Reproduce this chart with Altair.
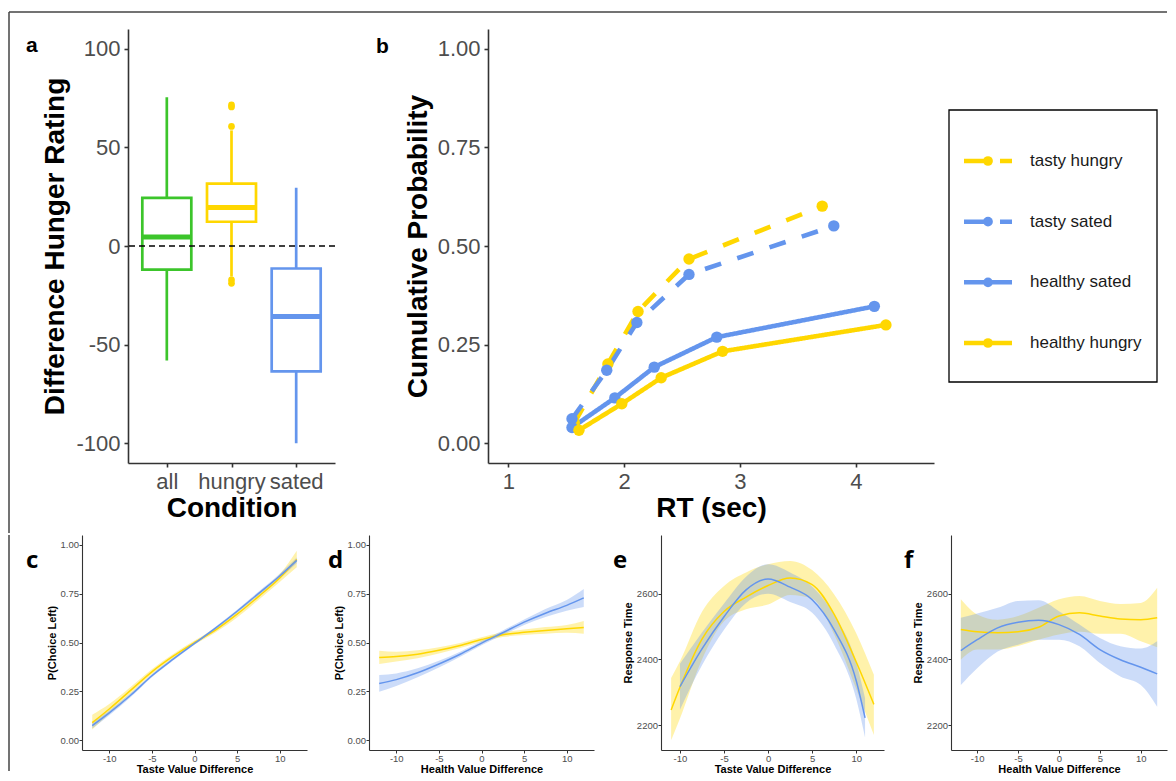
import altair as alt
import pandas as pd

FONT = "Liberation Sans"
GOLD = "#FFD700"
BLUE = "#6495ED"
GREEN = "#3CC52B"
GREY_TXT = "#4D4D4D"
AX = "#333333"

panel_letters = ["a", "b", "c", "d", "e", "f"]

# ---------------- panel a: boxplots ----------------
conditions = ["all", "hungry", "sated"]
box_q1 = [-12.0, 12.3, -63.6]
box_median = [4.5, 19.5, -35.7]
box_q3 = [24.4, 31.6, -11.4]
whisker_low = [-58.0, -15.5, -100.0]
whisker_high = [75.4, 58.6, 29.5]
outlier_cond = ["hungry", "hungry", "hungry", "hungry", "hungry"]
outlier_vals = [71.5, 70.5, 60.6, -17.2, -18.9]
zero_line = [0]

# ---------------- panel b: cumulative probability ----------------
series_names = ["tasty hungry", "tasty sated", "healthy sated", "healthy hungry"]
series_colors = [GOLD, BLUE, BLUE, GOLD]
rt_tasty_hungry = [1.57, 1.86, 2.12, 2.56, 3.71]
p_tasty_hungry = [0.052, 0.201, 0.334, 0.467, 0.601]
rt_tasty_sated = [1.55, 1.85, 2.11, 2.56, 3.81]
p_tasty_sated = [0.062, 0.185, 0.306, 0.428, 0.551]
rt_healthy_sated = [1.55, 1.92, 2.26, 2.80, 4.16]
p_healthy_sated = [0.040, 0.115, 0.193, 0.269, 0.347]
rt_healthy_hungry = [1.61, 1.98, 2.32, 2.85, 4.26]
p_healthy_hungry = [0.033, 0.100, 0.166, 0.233, 0.300]

# ---------------- panels c-f: smooth fits ----------------
groups = ["hungry", "sated"]
vd_x = [-12, -10, -7.5, -5, -2.5, 0, 2.5, 5, 7.5, 10, 12]

c_hungry = [0.09, 0.16, 0.255, 0.35, 0.43, 0.50, 0.565, 0.645, 0.735, 0.83, 0.925]
c_hungry_lo = [0.055, 0.135, 0.238, 0.337, 0.419, 0.49, 0.553, 0.628, 0.718, 0.81, 0.885]
c_hungry_hi = [0.13, 0.185, 0.272, 0.363, 0.441, 0.51, 0.577, 0.662, 0.752, 0.85, 0.97]
c_sated = [0.075, 0.14, 0.23, 0.33, 0.415, 0.495, 0.575, 0.66, 0.75, 0.84, 0.92]
c_sated_lo = [0.06, 0.128, 0.22, 0.322, 0.408, 0.489, 0.568, 0.652, 0.74, 0.828, 0.905]
c_sated_hi = [0.09, 0.152, 0.24, 0.338, 0.422, 0.501, 0.582, 0.668, 0.76, 0.852, 0.935]

d_hungry = [0.423, 0.428, 0.44, 0.46, 0.485, 0.515, 0.54, 0.552, 0.562, 0.57, 0.577]
d_hungry_lo = [0.39, 0.403, 0.42, 0.444, 0.472, 0.503, 0.528, 0.538, 0.545, 0.55, 0.545]
d_hungry_hi = [0.458, 0.453, 0.46, 0.476, 0.498, 0.527, 0.552, 0.566, 0.579, 0.59, 0.61]
d_sated = [0.29, 0.31, 0.345, 0.39, 0.44, 0.497, 0.55, 0.604, 0.65, 0.69, 0.728]
d_sated_lo = [0.248, 0.278, 0.322, 0.372, 0.427, 0.486, 0.538, 0.59, 0.63, 0.662, 0.682]
d_sated_hi = [0.334, 0.342, 0.368, 0.406, 0.453, 0.508, 0.562, 0.618, 0.672, 0.718, 0.774]

e_hungry_x = [-11, -10, -7.5, -5, -2.5, 0, 2.5, 5, 7.5, 10, 12]
e_hungry = [2246, 2315, 2462, 2546, 2590, 2625, 2648, 2628, 2537, 2392, 2263]
e_hungry_lo = [2154, 2220, 2400, 2516, 2553, 2567, 2596, 2585, 2476, 2310, 2170]
e_hungry_hi = [2343, 2394, 2545, 2624, 2665, 2690, 2700, 2672, 2598, 2480, 2353]
e_sated_x = [-10, -7.5, -5, -2.5, 0, 2.5, 5, 7.5, 10, 11]
e_sated = [2317, 2432, 2530, 2612, 2645, 2620, 2582, 2490, 2335, 2222]
e_sated_lo = [2247, 2382, 2490, 2572, 2600, 2575, 2542, 2445, 2280, 2162]
e_sated_hi = [2387, 2482, 2570, 2652, 2690, 2665, 2622, 2535, 2390, 2282]

f_hungry = [2491, 2484, 2481, 2484, 2498, 2532, 2542, 2532, 2523, 2521, 2527]
f_hungry_lo = [2399, 2430, 2430, 2441, 2460, 2476, 2484, 2478, 2478, 2455, 2437]
f_hungry_hi = [2583, 2537, 2521, 2532, 2557, 2583, 2593, 2578, 2569, 2572, 2618]
f_sated = [2427, 2460, 2496, 2513, 2519, 2506, 2476, 2430, 2399, 2376, 2356]
f_sated_lo = [2322, 2373, 2424, 2445, 2460, 2460, 2440, 2389, 2348, 2322, 2256]
f_sated_hi = [2527, 2540, 2557, 2578, 2580, 2547, 2506, 2465, 2440, 2433, 2455]

rt_ticks = [2200, 2400, 2600]
p_ticks = [0, 0.25, 0.5, 0.75, 1.0]
vd_ticks = [-10, -5, 0, 5, 10]
hunger_ticks = [-100, -50, 0, 50, 100]
rt_sec_ticks = [1, 2, 3, 4]

# ---------------- helpers ----------------
one = pd.DataFrame({"t": [0]})
PLAIN = "'' + datum.value"   # ASCII hyphen for negative numbers, as in the original


def top_axis(title, values=None, fmt=None, pad=4, plain=False):
    kw = dict(title=title, grid=False, domainColor=AX, domainWidth=1.6,
              tickColor=AX, tickWidth=1.6, tickSize=4, labelPadding=4, labelFontSize=22,
              labelColor=GREY_TXT, labelFont=FONT, titleFont=FONT, titleFontSize=28,
              titleFontWeight="bold", titleColor="black", titlePadding=pad,
              labelFlush=False, labelOverlap=False, labelAngle=0)
    if values is not None:
        kw["values"] = values
    if fmt:
        kw["format"] = fmt
    if plain:
        kw["labelExpr"] = PLAIN
    return alt.Axis(**kw)


def bot_axis(title, values=None, fmt=None, pad=0, plain=False):
    kw = dict(title=title, grid=False, domainColor=AX, domainWidth=1.1,
              tickColor=AX, tickWidth=1, tickSize=3, labelPadding=0.5, labelFontSize=9.5,
              labelColor=GREY_TXT, labelFont=FONT, titleFont=FONT, titleFontSize=11,
              titleFontWeight="bold", titleColor="black", titlePadding=pad,
              labelFlush=False, labelOverlap=False, labelAngle=0)
    if values is not None:
        kw["values"] = values
    if fmt:
        kw["format"] = fmt
    if plain:
        kw["labelExpr"] = PLAIN
    return alt.Axis(**kw)


def letter(txt, x, y, size, font):
    return alt.Chart(one).mark_text(align="left", baseline="alphabetic", fontSize=size,
                                    fontWeight="bold", font=font, color="black").encode(
        x=alt.value(x), y=alt.value(y), text=alt.value(txt))


def spacer(w, h):
    return alt.Chart(one).mark_point(opacity=0, size=0).encode(
        x=alt.value(0), y=alt.value(0)).properties(width=w, height=h)


TOP_H = 434
BOT_H = 215
FRAME = "#444444"

# ---------------- panel a ----------------
box_df = pd.DataFrame({"cond": conditions, "q1": box_q1, "med": box_median, "q3": box_q3,
                       "lo": whisker_low, "hi": whisker_high})
out_df = pd.DataFrame({"cond": outlier_cond, "v": outlier_vals})
zero_df = pd.DataFrame({"v": zero_line})
cond_scale = alt.Scale(domain=conditions, range=[GREEN, GOLD, BLUE])
xa = alt.X("cond:N", sort=conditions,
           scale=alt.Scale(type="point", domain=conditions, padding=0.6),
           axis=top_axis("Condition", pad=2))
ya_scale = alt.Scale(domain=[-110, 110], nice=False, zero=False)
ya_axis = top_axis("Difference Hunger Rating", hunger_ticks, pad=6, plain=True)

whisk = alt.Chart(box_df).mark_rule(strokeWidth=2.7).encode(
    x=xa, y=alt.Y("lo:Q", scale=ya_scale, axis=ya_axis), y2="hi:Q",
    color=alt.Color("cond:N", scale=cond_scale, legend=None))
boxes = alt.Chart(box_df).mark_bar(size=49, fill="white", strokeWidth=2.7).encode(
    x=xa, y=alt.Y("q1:Q", scale=ya_scale, axis=ya_axis), y2="q3:Q",
    stroke=alt.Stroke("cond:N", scale=cond_scale, legend=None))
meds = alt.Chart(box_df).mark_tick(size=49, thickness=5, opacity=1).encode(
    x=xa, y=alt.Y("med:Q", scale=ya_scale, axis=ya_axis),
    color=alt.Color("cond:N", scale=cond_scale, legend=None))
outs = alt.Chart(out_df).mark_circle(size=45, opacity=1).encode(
    x=xa, y=alt.Y("v:Q", scale=ya_scale, axis=ya_axis),
    color=alt.Color("cond:N", scale=cond_scale, legend=None))
zline = alt.Chart(zero_df).mark_rule(color="black", strokeWidth=1.5, strokeDash=[6, 4]).encode(
    y=alt.Y("v:Q", scale=ya_scale, axis=ya_axis))
frame_top = alt.Chart(one).mark_rule(color=FRAME, strokeWidth=1.5).encode(
    x=alt.value(-119), x2=alt.value(1039), y=alt.value(-17))
frame_left_a = alt.Chart(one).mark_rule(color=FRAME, strokeWidth=1.5).encode(
    x=alt.value(-119), y=alt.value(-17), y2=alt.value(504))
panel_a = alt.layer(whisk, boxes, meds, outs, zline, frame_top, frame_left_a,
                    letter(panel_letters[0], -102, 23, 21, FONT)).properties(width=207, height=TOP_H)

# ---------------- panel b ----------------
rows = []
for name, xs, ys in [("tasty hungry", rt_tasty_hungry, p_tasty_hungry),
                     ("tasty sated", rt_tasty_sated, p_tasty_sated),
                     ("healthy sated", rt_healthy_sated, p_healthy_sated),
                     ("healthy hungry", rt_healthy_hungry, p_healthy_hungry)]:
    for xv, yv in zip(xs, ys):
        rows.append({"series": name, "rt": xv, "p": yv})
b_df = pd.DataFrame(rows)
ser_color = alt.Color("series:N", scale=alt.Scale(domain=series_names, range=series_colors), legend=None)
xb = alt.X("rt:Q", scale=alt.Scale(domain=[0.825, 4.675], nice=False, zero=False),
           axis=top_axis("RT (sec)", rt_sec_ticks, pad=2))
yb = alt.Y("p:Q", scale=alt.Scale(domain=[-0.05, 1.05], nice=False, zero=False),
           axis=top_axis("Cumulative Probability", p_ticks, fmt=".2f", pad=5))
b_lines = alt.Chart(b_df).mark_line(strokeWidth=4.6, strokeCap="butt").encode(
    x=xb, y=yb, color=ser_color, detail="series:N", order="rt:Q",
    strokeDash=alt.StrokeDash("series:N", scale=alt.Scale(
        domain=series_names, range=[[17, 17], [17, 17], [1, 0], [1, 0]]), legend=None))
b_pts = alt.Chart(b_df).mark_point(filled=True, size=130, opacity=1).encode(
    x=xb, y=yb, color=ser_color)
panel_b = alt.layer(b_lines, b_pts, letter(panel_letters[1], -112, 24, 21, FONT)).properties(
    width=446, height=TOP_H)

# ---------------- legend panel ----------------
leg_df = pd.DataFrame({"series": series_names})
ly = alt.Y("series:N", sort=series_names,
           scale=alt.Scale(type="point", domain=series_names, range=[132, 314], padding=0), axis=None)
leg_box = alt.Chart(one).mark_rect(fill="transparent", stroke="black", strokeWidth=1.3).encode(
    x=alt.value(0), x2=alt.value(208), y=alt.value(81), y2=alt.value(353))
leg_lines = alt.Chart(leg_df).mark_rule(strokeWidth=4.5, strokeCap="butt").encode(
    x=alt.value(15), x2=alt.value(63), y=ly, color=ser_color,
    strokeDash=alt.StrokeDash("series:N", scale=alt.Scale(
        domain=series_names, range=[[20, 16, 12, 16], [20, 16, 12, 16], [1, 0], [1, 0]]), legend=None))
leg_pts = alt.Chart(leg_df).mark_point(filled=True, size=95, opacity=1).encode(
    x=alt.value(39), y=ly, color=ser_color)
leg_txt = alt.Chart(leg_df).mark_text(align="left", baseline="middle", fontSize=17, font=FONT,
                                      color="#1A1A1A").encode(x=alt.value(81), y=ly, text="series:N")
legend_panel = alt.layer(leg_box, leg_lines, leg_pts, leg_txt).properties(width=208, height=TOP_H)


# ---------------- bottom panels ----------------
def smooth_panel(xh, fh, lh, hh, xs, fs, ls, hs, xdom, ydom, yvals, yfmt, xtitle, ytitle,
                 let, lx, w, extra=None):
    recs = []
    for g, xx, ff, ll, hh_ in [("hungry", xh, fh, lh, hh), ("sated", xs, fs, ls, hs)]:
        for a, b, c, d in zip(xx, ff, ll, hh_):
            recs.append({"grp": g, "x": a, "fit": b, "lo": c, "hi": d})
    df = pd.DataFrame(recs)
    gcol = alt.Color("grp:N", scale=alt.Scale(domain=groups, range=[GOLD, BLUE]), legend=None)
    xe = alt.X("x:Q", scale=alt.Scale(domain=xdom, nice=False, zero=False),
               axis=bot_axis(xtitle, vd_ticks, pad=0, plain=True))
    yax = bot_axis(ytitle, yvals, fmt=yfmt, pad=3)
    ysc = alt.Scale(domain=ydom, nice=False, zero=False)
    rib = alt.Chart(df).mark_area(opacity=0.33, interpolate="monotone").encode(
        x=xe, y=alt.Y("lo:Q", scale=ysc, axis=yax), y2="hi:Q", color=gcol, detail="grp:N")
    ln = alt.Chart(df).mark_line(strokeWidth=1.5, interpolate="monotone").encode(
        x=xe, y=alt.Y("fit:Q", scale=ysc, axis=yax), color=gcol, detail="grp:N")
    layers = [rib, ln, letter(let, lx, 33, 24, "Open Sans")]
    if extra:
        layers += extra
    return alt.layer(*layers).properties(width=w, height=BOT_H)


frame_left_c = alt.Chart(one).mark_rule(color=FRAME, strokeWidth=1.5).encode(
    x=alt.value(-73), y=alt.value(0), y2=alt.value(236))

panel_c = smooth_panel(vd_x, c_hungry, c_hungry_lo, c_hungry_hi, vd_x, c_sated, c_sated_lo, c_sated_hi,
                       [-13.2, 13.2], [-0.05, 1.05], p_ticks, ".2f", "Taste Value Difference",
                       "P(Choice Left)", panel_letters[2], -56, 225, extra=[frame_left_c])
panel_d = smooth_panel(vd_x, d_hungry, d_hungry_lo, d_hungry_hi, vd_x, d_sated, d_sated_lo, d_sated_hi,
                       [-13.2, 13.2], [-0.05, 1.05], p_ticks, ".2f", "Health Value Difference",
                       "P(Choice Left)", panel_letters[3], -41, 225)
panel_e = smooth_panel(e_hungry_x, e_hungry, e_hungry_lo, e_hungry_hi, e_sated_x, e_sated, e_sated_lo,
                       e_sated_hi, [-12.15, 13.15], [2124, 2779], rt_ticks, "d", "Taste Value Difference",
                       "Response Time", panel_letters[4], -48, 223)
panel_f = smooth_panel(vd_x, f_hungry, f_hungry_lo, f_hungry_hi, vd_x, f_sated, f_sated_lo, f_sated_hi,
                       [-13.2, 13.2], [2124, 2779], rt_ticks, "d", "Health Value Difference",
                       "Response Time", panel_letters[5], -47, 216)

indep = dict(color="independent", stroke="independent", strokeDash="independent")
row1 = alt.HConcatChart(hconcat=[spacer(46, TOP_H), panel_a, spacer(153, TOP_H), panel_b,
                                 spacer(15, TOP_H), legend_panel],
                        bounds="flush", spacing=0).resolve_scale(**indep)
row2 = alt.HConcatChart(hconcat=[panel_c, spacer(62, BOT_H), panel_d, spacer(67, BOT_H), panel_e,
                                 spacer(67, BOT_H), panel_f],
                        bounds="flush", spacing=0).resolve_scale(**indep)

chart = alt.VConcatChart(vconcat=[row1, row2], spacing=0).resolve_scale(**indep).properties(
    padding={"left": 0, "top": 3, "right": 0, "bottom": 0},
    background="white",
).configure_view(strokeWidth=0)

chart.save("out.html", embed_options={"renderer": "svg", "actions": False})
